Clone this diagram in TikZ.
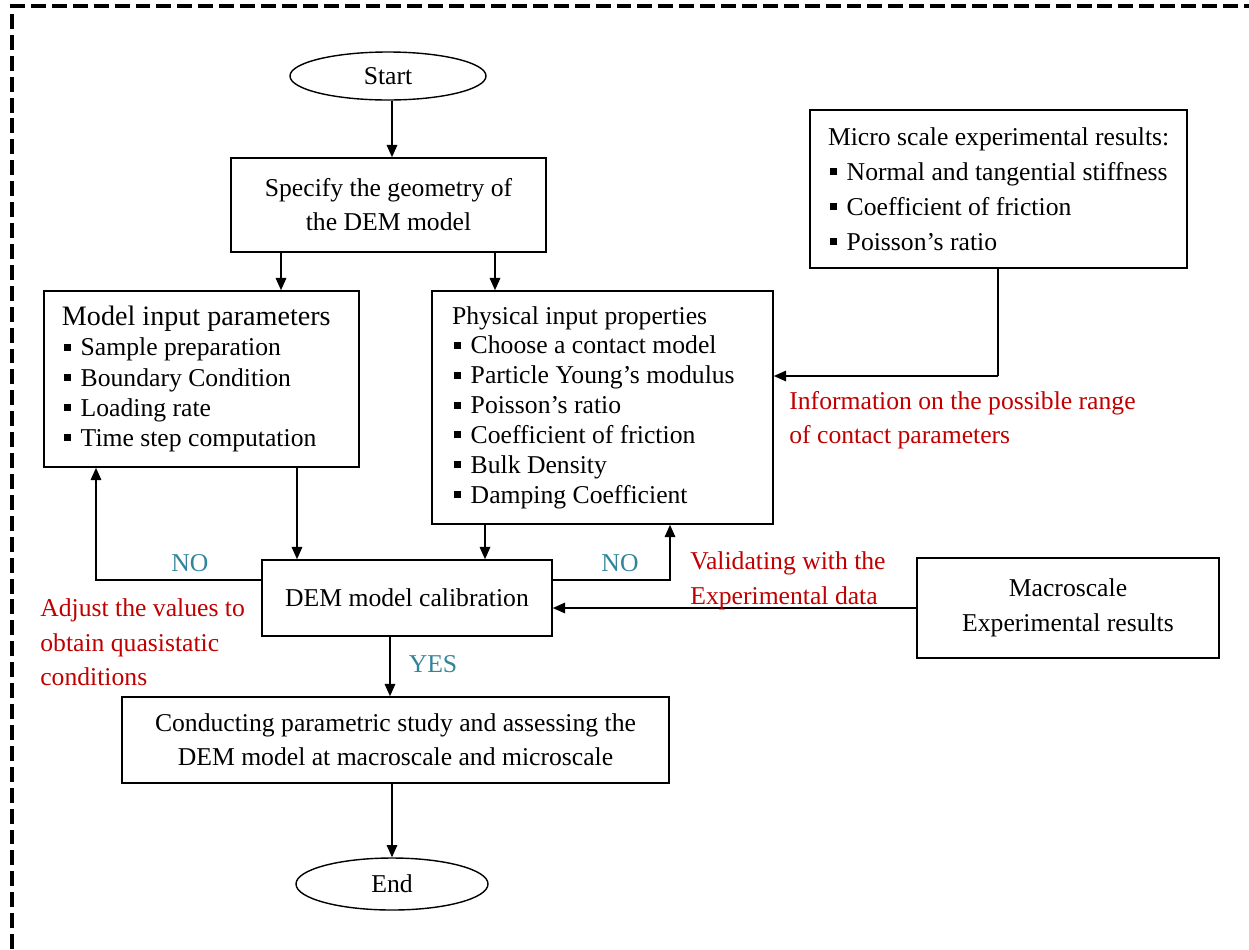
\documentclass[tikz,border=0pt]{standalone}
\usepackage{fontspec}
\setmainfont{Liberation Serif}
\usetikzlibrary{shapes.geometric, arrows.meta}
\definecolor{notered}{RGB}{192,0,0}
\definecolor{noteteal}{RGB}{49,133,155}
\newcommand{\sqb}{\hspace{0.08em}\rule[0.2em]{0.27em}{0.27em}\hspace{0.38em}}
\begin{document}
\begin{tikzpicture}[x = 0.2mm, y = -0.2mm,
		every node/.style = {font = \fontsize{14.6}{17.2}\selectfont},
		box/.style = {draw, line width = 0.9pt, inner sep = 0pt, align = center},
		listbox/.style = {draw, line width = 0.9pt, inner ysep = 0pt, align = flush left},
		oval/.style = {draw, ellipse, line width = 0.8pt, inner sep = 0pt},
		arr/.style = {line width = 0.9pt, -{Triangle[length = 7pt, width = 6pt]}},
		ln/.style = {line width = 0.9pt},
		rednote/.style = {text = notered, align = left, anchor = west, inner sep = 0pt},
		tealnote/.style = {text = noteteal, inner sep = 0pt}]
		\useasboundingbox (0, 0) rectangle (1249, 949);
		%%%%%%%%%%%%%
		\draw [line width = 2pt, dash pattern = on 8.5pt off 3.4pt] (12, 949) -- (12, 6) -- (1249, 6);
		%%%%%%%%%%%%%
		\node [oval, minimum width = 39.2mm, minimum height = 9.6mm] (start) at (388, 76) {Start};
		\node [box, minimum width = 63mm, minimum height = 18.8mm, font = \fontsize{14.6}{19.4}\selectfont] (geom) at (388.5, 205) {Specify the geometry of\\the DEM model};
		\node [listbox, minimum height = 35.2mm, text width = 55.8mm, inner xsep = 3.6mm, font = \fontsize{14.6}{17.1}\selectfont] (model) at (201.5, 379)
			{{\fontsize{16}{17.1}\selectfont Model input parameters}\\ \sqb Sample preparation\\ \sqb Boundary Condition\\ \sqb Loading rate\\ \sqb Time step computation};
		\node [listbox, minimum height = 46.6mm, text width = 60.2mm, inner xsep = 4mm, font = \fontsize{14.6}{17}\selectfont] (phys) at (602.5, 407.5)
			{Physical input properties\\ \sqb Choose a contact model\\ \sqb Particle Young's modulus\\ \sqb Poisson's ratio\\ \sqb Coefficient of friction\\ \sqb Bulk Density\\ \sqb Damping Coefficient};
		\node [listbox, minimum height = 31.6mm, text width = 68.2mm, inner xsep = 3.6mm, font = \fontsize{14.6}{19.9}\selectfont] (micro) at (998.5, 189)
			{\mbox{Micro scale experimental results:}\\ \mbox{\sqb Normal and tangential stiffness}\\ \sqb Coefficient of friction\\ \sqb Poisson's ratio};
		\node [box, minimum width = 58mm, minimum height = 15.2mm] (calib) at (407, 598) {DEM model calibration};
		\node [box, minimum width = 60.4mm, minimum height = 20mm, font = \fontsize{14.6}{19.9}\selectfont] (macro) at (1068, 608) {Macroscale\\Experimental results};
		\node [box, minimum width = 109.4mm, minimum height = 17.2mm, font = \fontsize{14.6}{19.4}\selectfont] (study) at (395.5, 740) {Conducting parametric study and assessing the\\DEM model at macroscale and microscale};
		\node [oval, minimum width = 38.4mm, minimum height = 10.4mm] (end) at (392, 884) {End};
		%%%%%%%%%%%%%
		\coordinate (c1) at (281, 0); \coordinate (c2) at (495, 0);
		\coordinate (c3) at (297, 0); \coordinate (c4) at (485, 0);
		\coordinate (c5) at (96, 580); \coordinate (c6) at (670, 580);
		\coordinate (c7) at (390, 0); \coordinate (c8) at (392, 0);
		\coordinate (c9) at (998, 376);
		%%%%%%%%%%%%%
		\draw [arr] (start.south -| c8) to (geom.north -| c8);
		\draw [arr] (geom.south -| c1) to (model.north -| c1);
		\draw [arr] (geom.south -| c2) to (phys.north -| c2);
		\draw [ln] (micro.south -| c9) to (c9); \draw [arr] (c9) to (phys.east |- c9);
		\draw [arr] (model.south -| c3) to (calib.north -| c3);
		\draw [arr] (phys.south -| c4) to (calib.north -| c4);
		\draw [arr] (calib.west |- c5) -| (model.south -| c5);
		\draw [arr] (calib.east |- c6) -| (phys.south -| c6);
		\draw [arr] (macro.west) to (calib.east |- macro.west);
		\draw [arr] (calib.south -| c7) to (study.north -| c7);
		\draw [arr] (study.south -| c8) to (end.north -| c8);
		%%%%%%%%%%%%%
		\node [tealnote] (no1) at (190, 563) {NO};
		\node [tealnote] (no2) at (620, 563) {NO};
		\node [tealnote] (yes) at (433, 664) {YES};
		\node [rednote, font = \fontsize{14.6}{19.5}\selectfont] (info) at (789, 420) {Information on the possible range\\of contact parameters};
		\node [rednote, font = \fontsize{14.6}{19.9}\selectfont] (valid) at (690, 580.5) {Validating with the\\Experimental data};
		\node [rednote, font = \fontsize{14.6}{19.6}\selectfont] (adjust) at (40, 642.5) {Adjust the values to\\obtain quasistatic\\conditions};
		%%%%%%%%%%%%%%
	\end{tikzpicture}
\end{document}
